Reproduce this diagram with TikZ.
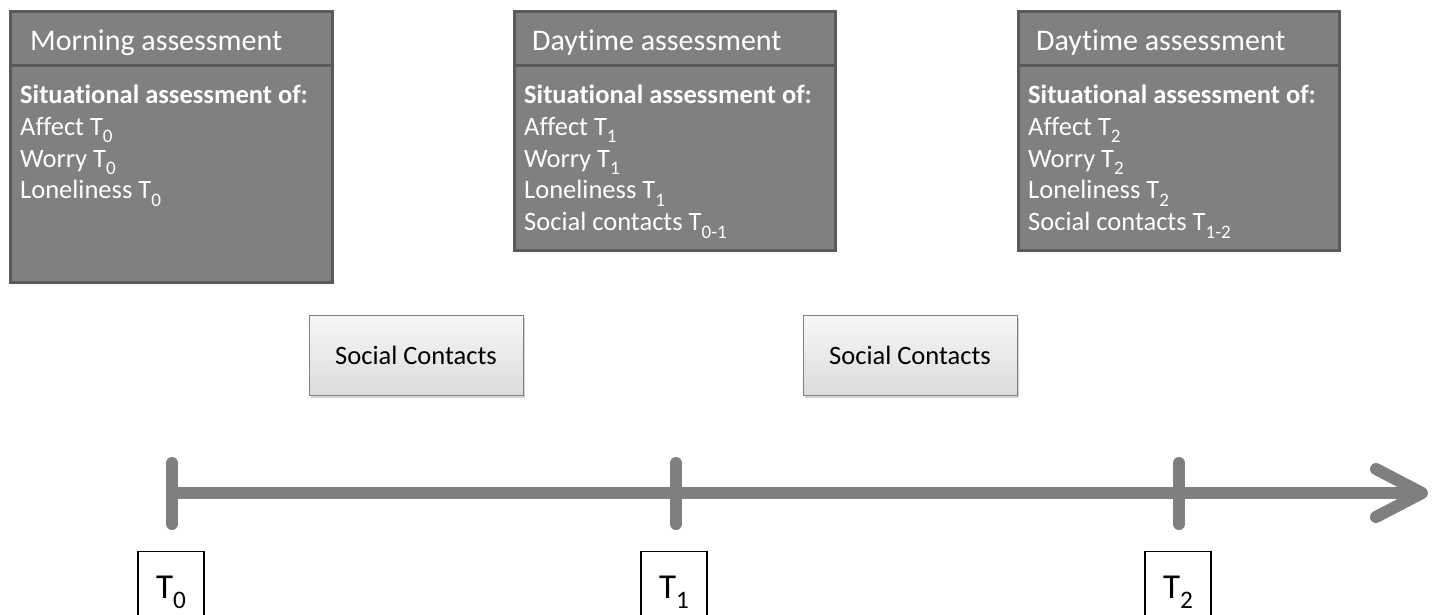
\documentclass[tikz,border=0pt]{standalone}
\usepackage{fontspec}
\setmainfont[Ligatures={NoCommon}]{Carlito}
\usetikzlibrary{shadows}
\definecolor{boxfill}{HTML}{808080}
\definecolor{boxline}{HTML}{5A5A5A}
\definecolor{axis}{HTML}{7F7F7F}
\newcommand\lsub[1]{\raisebox{-0.28em}{\scalebox{0.72}{#1}}}
\tikzset{
  assess/.style={draw=boxline, line width=3pt, fill=boxfill},
  headtxt/.style={anchor=base west, text=white, inner sep=0pt, font=\fontsize{30}{36}\selectfont},
  bodytxt/.style={anchor=north west, text=white, inner sep=0pt, align=left, font=\fontsize{26.5}{31.7}\selectfont},
  social/.style={draw=gray, line width=1pt, top color=white!94!gray, bottom color=gray!28,
     drop shadow={shadow xshift=2pt, shadow yshift=-3pt, opacity=0.35},
     minimum width=214pt, minimum height=80pt, inner sep=0pt, font=\fontsize{26.5}{30}\selectfont},
  axisline/.style={draw=axis, line width=12pt},
  tick/.style={draw=axis, line width=12pt, line cap=round, line join=round},
  tbox/.style={draw=black, line width=1.3pt, fill=white, minimum width=66pt, minimum height=82pt,
     anchor=north, inner sep=0pt, font=\fontsize{35}{38}\selectfont}
}
\begin{document}
\begin{tikzpicture}[x=1pt,y=-1pt]
\useasboundingbox (0,0) rectangle (1436,614);
% assessment boxes
\path[assess] (10,11) rectangle (332,282);
\draw[boxline, line width=3pt] (10,65) -- (332,65);
\node[headtxt] (h0) at (30,50) {Morning assessment};
\node[bodytxt] (b0) at (20,85) {\textbf{Situational assessment of:}\\Affect T\lsub{0}\\Worry T\lsub{0}\\Loneliness T\lsub{0}};

\path[assess] (514,11) rectangle (835,250);
\draw[boxline, line width=3pt] (514,65) -- (835,65);
\node[headtxt] (h1) at (532,50) {Daytime assessment};
\node[bodytxt] (b1) at (524,85) {\textbf{Situational assessment of:}\\Affect T\lsub{1}\\Worry T\lsub{1}\\Loneliness T\lsub{1}\\Social contacts T\lsub{0-1}};

\path[assess] (1018,11) rectangle (1339,250);
\draw[boxline, line width=3pt] (1018,65) -- (1339,65);
\node[headtxt] (h2) at (1036,50) {Daytime assessment};
\node[bodytxt] (b2) at (1028,85) {\textbf{Situational assessment of:}\\Affect T\lsub{2}\\Worry T\lsub{2}\\Loneliness T\lsub{2}\\Social contacts T\lsub{1-2}};

% social contacts
\node[social] (s1) at (416,355) {Social Contacts};
\node[social] (s2) at (910,355) {Social Contacts};

% timeline
\coordinate (a0) at (172,493);
\coordinate (tip) at (1422,493);
\coordinate (hu) at (1376,469);
\coordinate (hd) at (1376,517);
\draw[axisline] (a0) -- (1416,493);
\draw[tick] (hu) -- (tip) -- (hd);
\draw[tick] (172,463) -- (172,524);
\draw[tick] (676,463) -- (676,524);
\draw[tick] (1179,463) -- (1179,524);

% time labels
\node[tbox] (t0) at (171,551) {T\lsub{0}};
\node[tbox] (t1) at (674,551) {T\lsub{1}};
\node[tbox] (t2) at (1178,551) {T\lsub{2}};
\end{tikzpicture}
\end{document}
